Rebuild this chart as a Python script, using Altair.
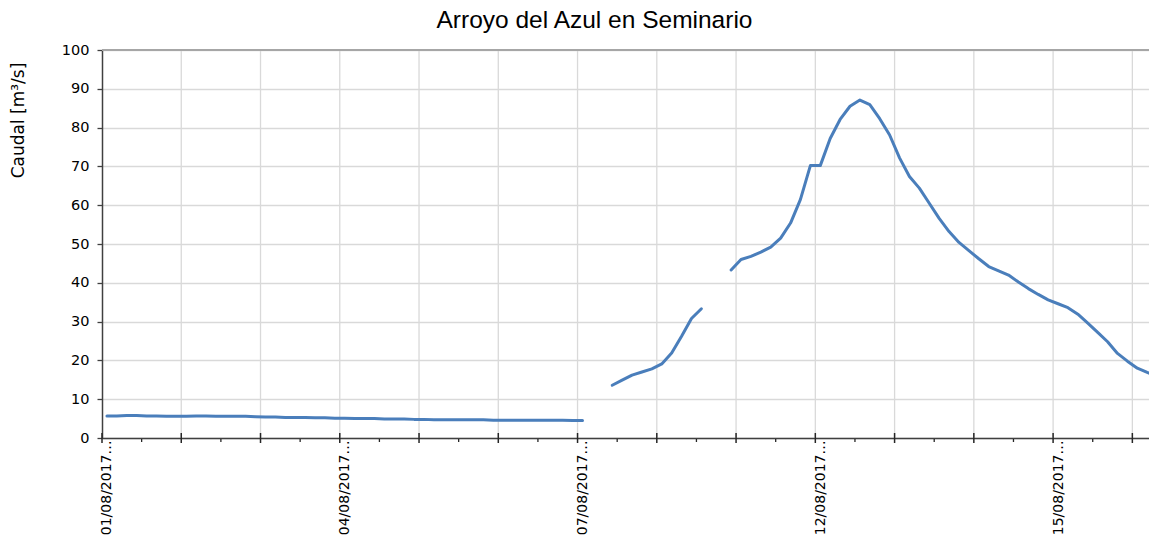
import altair as alt
import pandas as pd

# ---- data (one value per category, None = no data) ----
caudal = [
    5.7, 5.7, 5.8, 5.8, 5.7, 5.7, 5.6, 5.6, 5.6, 5.7,
    5.7, 5.6, 5.6, 5.6, 5.6, 5.5, 5.4, 5.4, 5.3, 5.3,
    5.3, 5.2, 5.2, 5.1, 5.1, 5.0, 5.0, 5.0, 4.9, 4.9,
    4.9, 4.8, 4.8, 4.7, 4.7, 4.7, 4.7, 4.7, 4.7, 4.6,
    4.6, 4.6, 4.6, 4.6, 4.6, 4.6, 4.6, 4.5, 4.5, None,
    None, 13.6, 14.9, 16.2, 17.0, 17.8, 19.1, 21.9, 26.2, 30.8,
    33.3, None, None, 43.3, 46.0, 46.8, 47.9, 49.2, 51.5, 55.4,
    61.5, 70.2, 70.2, 77.2, 82.1, 85.5, 87.1, 85.9, 82.3, 78.1,
    72.2, 67.4, 64.4, 60.5, 56.6, 53.2, 50.4, 48.3, 46.2, 44.2,
    43.1, 42.0, 40.2, 38.5, 37.0, 35.6, 34.6, 33.6, 31.9, 29.6,
    27.2, 24.8, 21.8, 19.8, 18.0, 16.9, 16.0,
]
label_index = [0, 24, 48, 72, 96]
label_text = ["01/08/2017…", "04/08/2017…", "07/08/2017…", "12/08/2017…", "15/08/2017…"]
y_ticks = list(range(0, 101, 10))

TITLE = "Arroyo del Azul en Seminario"
Y_TITLE = "Caudal [m³/s]"

# ---- build tables ----
rows = []
seg = 0
prev_none = True
for i, v in enumerate(caudal):
    if v is None:
        prev_none = True
        continue
    if prev_none:
        seg += 1
        prev_none = False
    rows.append({"x": i + 0.5, "caudal": v, "seg": seg})
df = pd.DataFrame(rows)

major = pd.DataFrame({"x": list(range(0, 105, 8))})
minor = pd.DataFrame({"x": list(range(4, 105, 8))})
grid_v = pd.DataFrame({"x": list(range(8, 105, 8))})

W, H = 1047, 388
xs = alt.Scale(domain=[0, 105.68], nice=False, zero=False)
ys = alt.Scale(domain=[0, 100], nice=False, zero=True)

expr = "''"
for idx, txt in reversed(list(zip(label_index, label_text))):
    expr = f"datum.value == {idx + 0.5} ? '{txt}' : (" + expr + ")"

x_axis = alt.Axis(
    values=[i + 0.5 for i in label_index],
    labelExpr=expr,
    labelAngle=270,
    labelAlign="right",
    labelBaseline="middle",
    labelFont="DejaVu Sans",
    labelFontSize=14,
    labelColor="#000000",
    labelPadding=2,
    labelOverlap=False,
    labelFlush=False,
    ticks=False,
    tickSize=0,
    grid=False,
    domainColor="#404040",
    domainWidth=1.5,
    title=None,
)
y_axis = alt.Axis(
    values=y_ticks,
    grid=True,
    gridColor="#d9d9d9",
    gridWidth=1.3,
    tickSize=5,
    tickColor="#404040",
    tickWidth=1.3,
    domainColor="#404040",
    domainWidth=1.5,
    labelFont="DejaVu Sans",
    labelFontSize=14.5,
    labelColor="#000000",
    labelPadding=8,
    labelOverlap=False,
    title=Y_TITLE,
    titleFont="DejaVu Sans",
    titleFontSize=17,
    titleFontWeight="normal",
    titleColor="#000000",
    titleAngle=270,
    titleAlign="center",
    titleBaseline="middle",
    titleX=-84,
    titleY=70,
)

line = alt.Chart(df).mark_line(
    color="#4a7ebb", strokeWidth=3, strokeCap="round", strokeJoin="round", clip=True
).encode(
    x=alt.X("x:Q", scale=xs, axis=x_axis),
    y=alt.Y("caudal:Q", scale=ys, axis=y_axis),
    detail="seg:N",
)
vgrid = alt.Chart(grid_v).mark_rule(color="#d9d9d9", strokeWidth=1.3).encode(
    x=alt.X("x:Q", scale=xs, axis=x_axis), y=alt.value(0), y2=alt.value(H)
)
top_line = alt.Chart(grid_v).mark_rule(color="#a6a6a6", strokeWidth=2).encode(
    x=alt.value(0), x2=alt.value(W), y=alt.value(0)
)
major_ticks = alt.Chart(major).mark_rule(color="#262626", strokeWidth=1.5).encode(
    x=alt.X("x:Q", scale=xs, axis=x_axis), y=alt.value(H - 5), y2=alt.value(H + 5)
)
minor_ticks = alt.Chart(minor).mark_rule(color="#262626", strokeWidth=1.3).encode(
    x=alt.X("x:Q", scale=xs, axis=x_axis), y=alt.value(H + 1), y2=alt.value(H + 4)
)

chart = alt.layer(vgrid, top_line, line, major_ticks, minor_ticks).properties(
    width=W,
    height=H,
    title=alt.TitleParams(
        TITLE,
        font="Liberation Sans",
        fontSize=24.5,
        fontWeight="normal",
        color="#000000",
        anchor="middle",
        dx=-31,
        offset=9,
    ),
    autosize=alt.AutoSizeParams(type="none"),
    padding={"left": 94, "top": 42, "right": 0, "bottom": 100},
    background="white",
).configure_view(stroke=None)

chart.save("out.html", embed_options={"renderer": "svg", "actions": False})
